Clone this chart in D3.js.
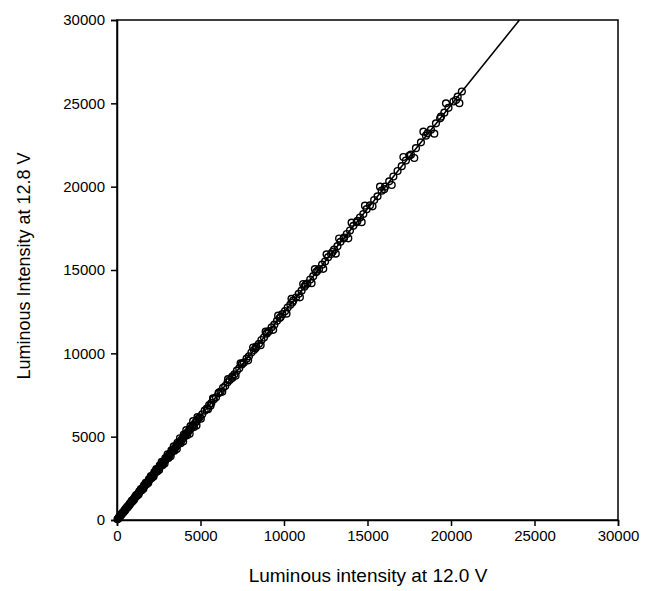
<!DOCTYPE html>
<html><head><meta charset="utf-8">
<script src="https://cdn.jsdelivr.net/npm/d3@7"></script>
<style>body{margin:0;background:#fff}svg{display:block}text{font-family:"Liberation Sans",Arial,sans-serif;fill:#000}</style>
</head><body><svg id="c" width="653" height="591"></svg>
<script>
const xTicks = [0, 5000, 10000, 15000, 20000, 25000, 30000];
const yTicks = [0, 5000, 10000, 15000, 20000, 25000, 30000];
const xValues = [30,80,120,170,210,260,300,350,390,440,480,530,570,620,660,710,760,800,850,900,940,990,1040,1080,1130,1180,1220,1270,1320,1370,1410,1460,1510,1560,1600,1650,1700,1750,1800,1850,1900,1950,2000,2060,2110,2160,2210,2270,2320,2380,2430,2490,2540,2600,2660,2710,2770,2830,2890,2950,3010,3070,3130,3190,3260,3320,3390,3450,3520,3590,3660,3730,3800,3870,3950,4020,4100,4180,4260,4340,4420,4510,4600,4690,4780,4870,4960,
100,230,370,510,640,780,920,1060,1200,1340,1480,1620,1770,1920,2080,2240,2400,2560,2720,2900,3080,3260,3440,3620,3810,4000,4200,4400,4610,4820,5020,
150,320,460,600,750,880,1010,1150,1290,1430,1580,1720,1870,2030,2190,2350,2520,2680,2850,3030,3210,3400,3580,3770,3960,4150,4350,4560,4760,
5100,5250,5380,5520,5650,5800,5930,6080,6200,6350,6480,6620,6750,6900,7030,7180,7320,7470,7600,7760,7900,8050,8200,8340,8500,8650,8800,8960,9100,9260,9420,9580,9740,9900,10060,10220,10380,10550,10720,10880,11050,11220,11400,11570,11750,11920,12100,12280,12460,12640,12820,13000,13200,13380,13570,13760,13950,14150,14350,14550,14750,14950,
5600,6100,6900,7500,8300,9000,9800,10500,11300,12000,12900,13600,14400,
5450,5750,6300,6650,7100,7400,7850,8150,8600,8900,9350,9650,10150,10450,10950,11150,11650,11850,12350,12550,13100,13300,13850,14050,14650,14850,
15150,15400,15600,15850,16050,16300,16550,16800,17050,17300,17600,17900,18200,18500,18800,19100,19350,19600,19850,20150,20400,20650,
16000,17500,18600,19400,20300,
15300,15750,16450,17150,17800,18350,19000,19700,20500];
const yValues = [40,95,155,205,265,320,380,430,490,545,600,665,705,775,820,890,940,1000,1055,1125,1165,1235,1290,1350,1400,1475,1515,1585,1640,1710,1750,1825,1875,1945,1990,2060,2110,2185,2235,2310,2360,2430,2485,2570,2620,2695,2745,2830,2880,2970,3020,3105,3155,3245,3300,3380,3440,3530,3590,3680,3740,3825,3890,3975,4050,4140,4210,4300,4375,4475,4545,4650,4720,4820,4910,5010,5090,5210,5290,5410,5490,5620,5710,5850,5935,6070,6160,
121,294,448,653,774,998,1113,1357,1452,1715,1791,2074,2142,2458,2517,2867,2904,3277,3291,3712,3727,4173,4162,4634,4610,5120,5082,5632,5578,6170,6074,
179,416,547,780,893,1144,1202,1495,1535,1859,1880,2236,2225,2639,2606,3055,2999,3484,3392,3939,3820,4420,4260,4901,4712,5395,5177,5928,5664,
6340,6560,6680,6900,7020,7250,7360,7600,7700,7930,8040,8260,8400,8610,8740,8960,9100,9330,9450,9680,9820,10050,10200,10400,10570,10800,10950,11180,11330,11560,11720,11950,12120,12350,12530,12750,12920,13160,13350,13570,13760,14000,14190,14430,14630,14870,15060,15320,15510,15770,15960,16220,16430,16690,16890,17160,17370,17650,17860,18150,18360,18650,
6850,7650,8520,9380,10300,11250,12180,13050,14120,14950,16080,16950,17950,
6650,7300,7690,8450,8660,9400,9580,10350,10490,11300,11410,12260,12380,13270,13360,14160,14210,15050,15070,15940,15980,16890,16900,17840,17870,18860,
18880,19200,19420,19760,20000,20320,20610,20940,21230,21570,21920,22310,22660,23060,23420,23800,24100,24440,24730,25110,25400,25710,
19850,21850,23200,24200,25200,
18820,20000,20100,21780,21720,23300,23180,25000,25010];
const fitX = [0, 24100];
const fitY = [0, 30000];

const m = {l:117, t:20, r:618, b:520};
const svg = d3.select("#c");
const x = d3.scaleLinear().domain([0,30000]).range([m.l, m.r]);
const y = d3.scaleLinear().domain([0,30000]).range([m.b, m.t]);

svg.append("rect").attr("x",m.l).attr("y",m.t).attr("width",m.r-m.l).attr("height",m.b-m.t)
  .attr("fill","none").attr("stroke","#000").attr("stroke-width",1.5);

const xa = svg.append("g").attr("transform",`translate(0,${m.b})`)
  .call(d3.axisBottom(x).tickValues(xTicks).tickFormat(d3.format("d")).tickSize(6).tickPadding(4));
const ya = svg.append("g").attr("transform",`translate(${m.l},0)`)
  .call(d3.axisLeft(y).tickValues(yTicks).tickFormat(d3.format("d")).tickSize(6).tickPadding(6));
[xa, ya].forEach(a => {
  a.select(".domain").attr("stroke-width",1.5);
  a.selectAll(".tick line").attr("stroke-width",1.5);
  a.selectAll("text").attr("font-size",15).attr("font-family","'Liberation Sans',Arial,sans-serif");
});

svg.append("g").selectAll("circle").data(d3.range(xValues.length)).join("circle")
  .attr("cx", i => x(xValues[i])).attr("cy", i => y(yValues[i])).attr("r",3.4)
  .attr("fill","none").attr("stroke","#000").attr("stroke-width",1.4);

svg.append("line").attr("x1",x(fitX[0])).attr("y1",y(fitY[0])).attr("x2",x(fitX[1])).attr("y2",y(fitY[1]))
  .attr("stroke","#000").attr("stroke-width",1.6);

svg.append("text").attr("x",368).attr("y",582).attr("text-anchor","middle").attr("font-size",19)
  .text("Luminous intensity at 12.0 V");
svg.append("text").attr("transform",`translate(30,266) rotate(-90)`).attr("text-anchor","middle").attr("font-size",18)
  .text("Luminous Intensity at 12.8 V");
</script></body></html>
